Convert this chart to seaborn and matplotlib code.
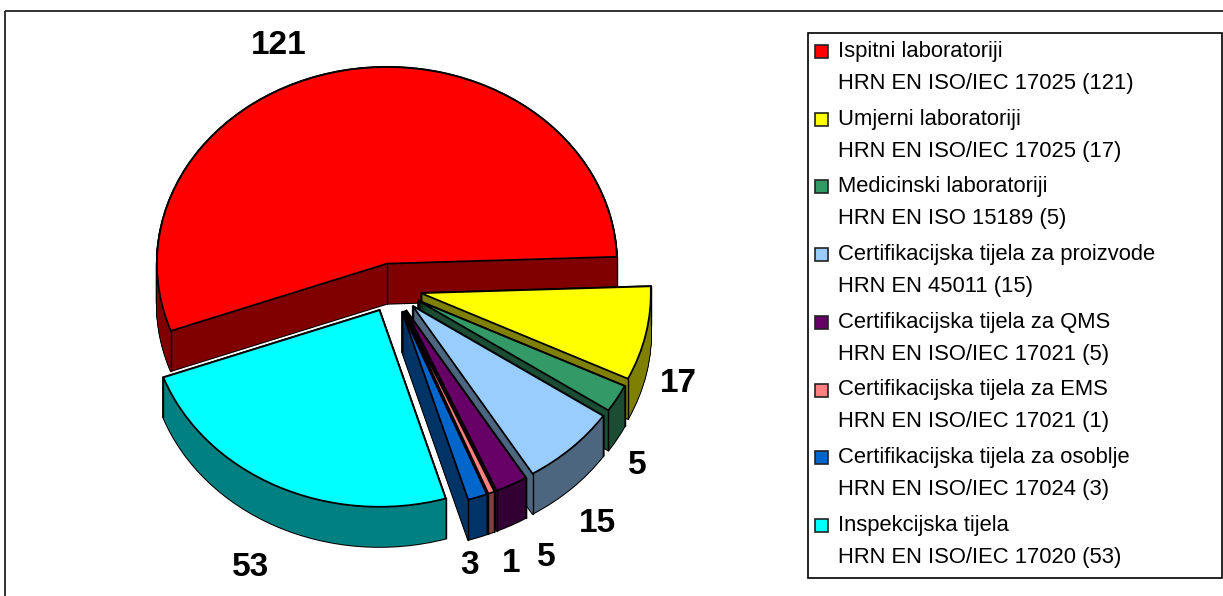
import numpy as np
import matplotlib
matplotlib.use('Agg')
import matplotlib.pyplot as plt
from matplotlib.patches import Rectangle
import seaborn as sns

names = ['Ispitni laboratoriji', 'Umjerni laboratoriji', 'Medicinski laboratoriji',
         'Certifikacijska tijela za proizvode', 'Certifikacijska tijela za QMS',
         'Certifikacijska tijela za EMS', 'Certifikacijska tijela za osoblje',
         'Inspekcijska tijela']
norms = ['HRN EN ISO/IEC 17025 (121)', 'HRN EN ISO/IEC 17025 (17)', 'HRN EN ISO 15189 (5)',
         'HRN EN 45011 (15)', 'HRN EN ISO/IEC 17021 (5)', 'HRN EN ISO/IEC 17021 (1)',
         'HRN EN ISO/IEC 17024 (3)', 'HRN EN ISO/IEC 17020 (53)']
values = [121, 17, 5, 15, 5, 1, 3, 53]
top_colors = ['#ff0000', '#ffff00', '#339966', '#99ccff', '#660066', '#ff8080', '#0066cc', '#00ffff']
label_x = [279, 678, 637, 597, 546, 511, 470, 251]
label_y = [45, 383, 465, 523, 558, 564, 565, 567]

sns.set_theme(style='white')
plt.rcParams['font.family'] = ['Liberation Sans', 'DejaVu Sans']

W, H = 1223, 596
fig = plt.figure(figsize=(W / 100, H / 100), dpi=100)

# pie axes: x in pixels, y squashed so the circle looks tilted
squash = 0.855
ax = fig.add_axes([0, 0, 1, 1])
cx, cy = 392.5, 288
radius = 230
explode = 29
depth = 40
start = 200

palette = sns.color_palette(top_colors)
sides = [tuple(c * 0.5 for c in col) for col in palette]


def one_pie(y_pixel, colors, z, **wedge):
    wedges, _ = ax.pie(values, colors=colors, startangle=start, counterclock=False,
                       center=(cx, (H - y_pixel) / squash), radius=radius,
                       explode=[explode] * len(values), wedgeprops=wedge)
    # slices stack in legend order, so later ones sit over the walls of earlier ones
    for i, w in enumerate(wedges):
        w.set_zorder(i * 10 + z)
    return wedges


for d in range(0, depth + 1):
    one_pie(cy + d, ['black'] * len(values), 1, linewidth=1.5, edgecolor='black')
for d in range(0, depth + 1):
    one_pie(cy + d, sides, 2, linewidth=0)
top = one_pie(cy, palette, 4, linewidth=1.3, edgecolor='black')

# vertical lines on the slice corners
for i, w in enumerate(top):
    z = i * 10 + 3
    cxw, cyw = w.center
    for th in (w.theta1, w.theta2):
        xs = cxw + radius * np.cos(np.deg2rad(th))
        ys = cyw + radius * np.sin(np.deg2rad(th))
        ax.plot([xs, xs], [ys, ys - depth / squash], color='black', lw=1, zorder=z)
    ax.plot([cxw, cxw], [cyw, cyw - depth / squash], color='black', lw=1, zorder=z)

ax.set_xlim(0, W)
ax.set_ylim(0, H / squash)
ax.set_aspect('auto')
ax.axis('off')

# overlay in image pixels for the frame, value labels and the key
over = fig.add_axes([0, 0, 1, 1], facecolor='none')
over.set_xlim(0, W)
over.set_ylim(H, 0)
over.axis('off')

over.add_patch(Rectangle((5, 11), W + 20, H + 20, fill=False, ec='#222222', lw=1.3))
over.add_patch(Rectangle((808, 33), 413.5, 545, facecolor='white', ec='black', lw=1.2, clip_on=False))

for v, x, y in zip(values, label_x, label_y):
    over.text(x, y, str(v), fontsize=24, fontweight='bold', color='black', ha='center', va='center')

for i, (name, norm) in enumerate(zip(names, norms)):
    y = 51.5 + i * 67.7
    over.add_patch(Rectangle((815, y - 6.5), 13, 13, facecolor=palette[i], ec='#222222', lw=1.2))
    over.text(838, y, name, fontsize=15.8, color='black', va='center', ha='left')
    over.text(838, y + 32, norm, fontsize=15.8, color='black', va='center', ha='left')

fig.savefig('out.png', dpi=100, facecolor='white')
